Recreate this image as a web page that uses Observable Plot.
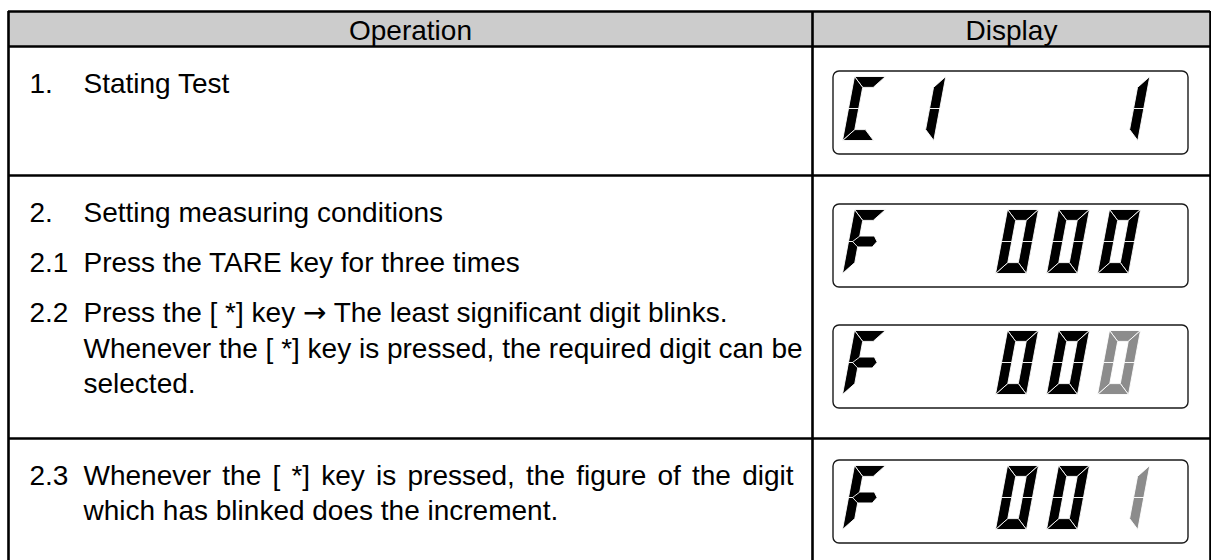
<!DOCTYPE html>
<html><head><meta charset="utf-8">
<script src="https://cdn.jsdelivr.net/npm/d3@7"></script>
<script src="https://cdn.jsdelivr.net/npm/@observablehq/plot@0.6"></script>
<style>body{margin:0;background:#fff}</style>
</head><body><div id="chart"></div>
<script>
// ---- content ----
const headers = ["Operation", "Display"];
const stepNumbers = ["1.", "2.", "2.1", "2.2", "2.3"];
const stepLines = [
  ["Stating Test"],
  ["Setting measuring conditions"],
  ["Press the TARE key for three times"],
  ["Press the [ *] key \u2192 The least significant digit blinks.",
   "Whenever the [ *] key is pressed, the required digit can be",
   "selected."],
  ["Whenever the [ *] key is pressed, the figure of the digit",
   "which has blinked does the increment."]
];
const displayChars = [
  ["C", "1", "", "", "", "1"],
  ["F", "", "", "0", "0", "0"],
  ["F", "", "", "0", "0", "0"],
  ["F", "", "", "0", "0", "1"]
];
const blinkingSlot = [null, null, 5, 5];
const justifiedLines = ["Whenever the [ *] key is pressed, the figure of the digit"];

// ---- seven-segment glyph definitions (unit square, v up) ----
const glyphSegments = {"0": "abcdef", "1": "bc", "C": "adef", "F": "aefg"};
const glyphShift = {"1": 0.3};
const tu = 0.33, tv = 0.17;
const segmentShapes = {
  a: [[0,1],[1,1],[1-tu,1-tv],[tu,1-tv]],
  b: [[1,1],[1,0.5],[1-tu,0.5],[1-tu,1-tv]],
  c: [[1,0.5],[1,0],[1-tu,tv],[1-tu,0.5]],
  d: [[0,0],[tu,tv],[1-tu,tv],[1,0]],
  e: [[0,0.5],[tu,0.5],[tu,tv],[0,0]],
  f: [[0,1],[tu,1-tv],[tu,0.5],[0,0.5]],
  g: [[tu*0.4,0.5],[tu,0.5+tv/2],[0.8,0.5+tv/2],[0.92,0.5],[0.8,0.5-tv/2],[tu,0.5-tv/2]]
};

// ---- layout ----
const W = 1211, H = 560;
const table = {left: 8, right: 1210, top: 11, headerBottom: 46, split: 812};
const rowDividers = [175, 438];
const headerBaseline = 39.5;
const numX = 29, textX = 83;
const stepBaselines = [92, 221.7, 271.7, 321.7, 484];
const lineStep = 35.3;
const fontSize = 28;
const justifyEnd = 793;
const boxes = {x1: 833, x2: 1188, tops: [71, 204, 325, 460], height: 83};
const digit = {x0: 842, pitch: 51, w: 31, slant: 12, h: 64, topGap: 5};
const font = "Liberation Sans, Arial, Helvetica, sans-serif";
const arrowFont = "DejaVu Sans, sans-serif";

// ---- build tables ----
const headerRows = headers.map((t, i) => ({
  text: t,
  x: i === 0 ? (table.left + table.split) / 2 : (table.split + table.right) / 2,
  y: headerBaseline
}));
const textRows = [];
stepNumbers.forEach((n, i) => {
  textRows.push({text: n, x: numX, y: stepBaselines[i]});
  stepLines[i].forEach((l, j) => textRows.push({text: l, x: textX, y: stepBaselines[i] + j * lineStep}));
});
const segRows = [];
displayChars.forEach((chars, bi) => {
  chars.forEach((ch, k) => {
    const segs = glyphSegments[ch];
    if (!segs) return;
    const color = blinkingSlot[bi] === k ? "#8c8c8c" : "#000000";
    const shift = glyphShift[ch] || 0;
    for (const s of segs) {
      const pts = segmentShapes[s];
      const id = `${bi}-${k}-${s}`;
      [...pts, pts[0]].forEach(([u, v]) => segRows.push({
        id, color,
        x: digit.x0 + k * digit.pitch + (u + shift) * digit.w + v * digit.slant,
        y: boxes.tops[bi] + digit.topGap + (1 - v) * digit.h
      }));
    }
  });
});

const chart = Plot.plot({
  width: W, height: H, margin: 0,
  style: {fontFamily: font, background: "white"},
  x: {domain: [0, W], range: [0, W], axis: null},
  y: {domain: [0, H], range: [0, H], axis: null},
  marks: [
    Plot.rect([0], {x1: table.left, x2: table.right, y1: table.top, y2: table.headerBottom, fill: "#cccccc"}),
    Plot.ruleY([table.top, table.headerBottom, ...rowDividers], {x1: table.left, x2: table.right, stroke: "black", strokeWidth: 2.6}),
    Plot.ruleX([table.left, table.split, table.right], {y1: table.top, y2: H, stroke: "black", strokeWidth: 2.6}),
    Plot.rect(boxes.tops, {x1: boxes.x1, x2: boxes.x2, y1: d => d, y2: d => d + boxes.height, rx: 6, ry: 6, fill: "white", stroke: "#1a1a1a", strokeWidth: 1.4}),
    Plot.line(segRows.filter(d => d.color === "#000000"), {x: "x", y: "y", z: "id", fill: "#000000", stroke: "white", strokeWidth: 0.9, strokeLinejoin: "miter"}),
    Plot.line(segRows.filter(d => d.color !== "#000000"), {x: "x", y: "y", z: "id", fill: "#8c8c8c", stroke: "white", strokeWidth: 0.9, strokeLinejoin: "miter"}),
    Plot.text(headerRows, {x: "x", y: "y", text: "text", textAnchor: "middle", lineAnchor: "bottom", fontSize, fill: "black", fontFamily: font}),
    Plot.text(textRows, {x: "x", y: "y", text: "text", textAnchor: "start", lineAnchor: "bottom", fontSize, fill: "black", fontFamily: font})
  ]
});
document.getElementById("chart").appendChild(chart);

chart.querySelectorAll("text").forEach(el => {
  const t = el.textContent;
  // justify the first line of step 2.3 (word spacing)
  if (justifiedLines.includes(t)) {
    const len = el.getComputedTextLength();
    const spaces = (t.match(/ /g) || []).length;
    const ws = (justifyEnd - textX - len) / spaces;
    if (ws > 0) el.style.wordSpacing = ws + "px";
  }
  // draw the arrow with a font whose arrow glyph is full size
  if (t.includes("\u2192")) {
    const parts = t.split("\u2192");
    el.textContent = "";
    parts.forEach((p, i) => {
      if (i > 0) {
        const a = document.createElementNS("http://www.w3.org/2000/svg", "tspan");
        a.setAttribute("font-family", arrowFont);
        a.textContent = "\u2192";
        el.appendChild(a);
      }
      const s = document.createElementNS("http://www.w3.org/2000/svg", "tspan");
      s.textContent = p;
      el.appendChild(s);
    });
  }
});
</script>
</body></html>
